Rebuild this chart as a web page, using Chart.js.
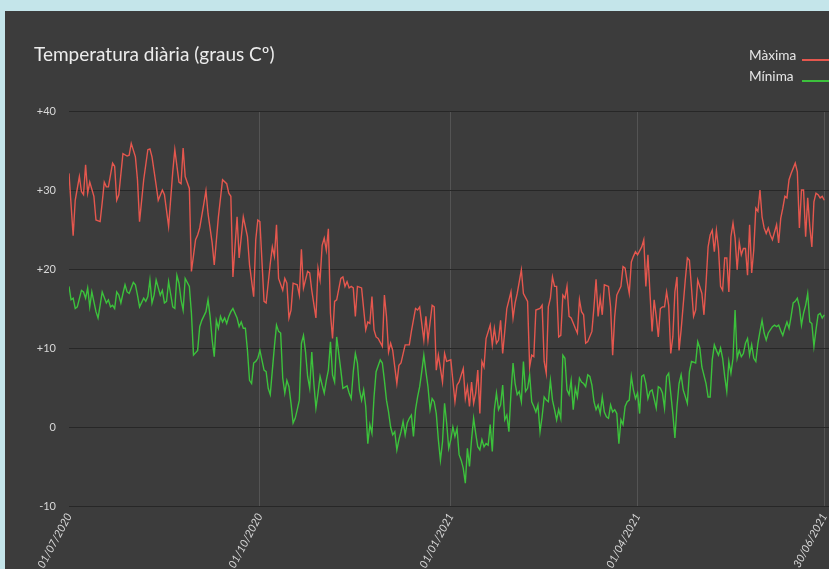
<!DOCTYPE html>
<html>
<head>
<meta charset="utf-8">
<script src="https://cdn.jsdelivr.net/npm/chart.js@4"></script>
<style>
  body { margin: 0; background: #c4e5ea; overflow: hidden; font-family: Lato, sans-serif; }
  #panel { position: absolute; left: 5px; top: 11px; width: 845px; height: 558px; background: #3c3c3c; overflow: hidden; }
  #title { position: absolute; left: 29px; top: 33px; font-size: 19px; line-height: 20px; color: #ececec; white-space: nowrap; z-index: 2; }
  #legend { position: absolute; left: 744px; top: 34px; z-index: 2; color: #e6e6e6; font-size: 13.6px; }
  .row { height: 21px; line-height: 21px; white-space: nowrap; position: relative; }
  .row span.line { position: absolute; left: 53px; top: 14px; width: 32px; height: 0; border-top: 2px solid; }
  #wrap { position: absolute; left: 0; top: 0; width: 836px; height: 558px; }
</style>
</head>
<body>
<div id="panel">
  <div id="title">Temperatura diària (graus Cº)</div>
  <div id="legend">
    <div class="row">Màxima<span class="line" style="border-color:#e5574e"></span></div>
    <div class="row">Mínima<span class="line" style="border-color:#3cc13c"></span></div>
  </div>
  <div id="wrap"><canvas id="chart"></canvas></div>
</div>
<script>
// day offset from 01/07/2020, temperature
const maxima = [[0,32.1],[2,24.2],[3,28.7],[5,31.7],[6,29.8],[7,29.4],[8,33.2],[9,29.6],[10,31],[12,29.2],[13,26.2],[15,26],[16,28.4],[17,31],[18,30.4],[19,30.4],[21,33.4],[22,33],[23,28.7],[24,29.4],[26,34.6],[28,34.3],[29,34.4],[30,35.9],[32,34.2],[33,31.3],[34,26],[36,31.3],[38,35.1],[39,35.2],[40,34.2],[42,30.6],[43,28.7],[45,30],[46,29.4],[48,25.4],[50,32.3],[51,35.1],[53,31],[54,30.8],[55,35.3],[56,31.7],[58,30.2],[59,19.7],[61,23.7],[62,24.3],[63,25.2],[65,28.3],[66,29.9],[67,27],[69,23.3],[70,20.5],[72,26.6],[74,31.3],[76,30.8],[77,29.6],[78,29.2],[79,19],[81,26.6],[82,21.4],[84,26.6],[86,24.1],[87,20.5],[89,16.5],[90,23.7],[91,26.2],[92,26],[94,15.9],[95,15.7],[97,20.7],[98,22.8],[99,21.6],[100,25.6],[101,18.8],[103,17.3],[104,18.8],[105,18.2],[106,13.8],[107,14.8],[108,18.2],[110,18],[111,16.7],[112,22.5],[113,17.6],[115,19.7],[116,19.5],[117,17.3],[119,13.8],[120,20.1],[121,18.6],[122,23],[123,23.9],[124,22.4],[125,25.1],[126,14.4],[127,11.2],[128,15.9],[129,16.1],[131,18.8],[132,19],[133,17.8],[134,18.4],[135,17.6],[136,17.8],[137,17.6],[138,14],[139,17.8],[141,17.6],[143,12.3],[144,13.3],[145,13.1],[146,16.5],[147,12.3],[148,11.4],[149,11.2],[151,10.2],[152,16.7],[153,14],[154,9.5],[155,10.6],[156,9.7],[158,5.5],[159,7.8],[160,8.1],[162,10.4],[164,10.4],[165,12.1],[167,15],[168,14.8],[169,15.2],[171,11],[172,14],[173,11],[175,15.4],[176,15.2],[177,7.2],[178,9.1],[180,5.7],[181,9.3],[182,8.3],[184,8.5],[186,3.2],[187,5.3],[188,5.7],[190,7.4],[191,3.6],[192,5.1],[193,2.6],[194,5.7],[195,3],[196,4.3],[197,7.2],[198,1.7],[199,8.3],[200,7.6],[201,11.2],[203,12.9],[204,10.4],[205,12.5],[206,10.6],[207,11],[208,13.5],[209,9.3],[210,12.1],[211,15],[213,17.1],[214,13.8],[215,15.7],[216,16.9],[218,19.9],[219,16.9],[221,15.9],[222,7.6],[223,9.1],[224,8.9],[225,14.8],[227,15],[228,15.4],[229,8.3],[230,6.8],[231,15.2],[232,16.3],[233,19],[234,17.8],[235,17.8],[236,11.4],[237,11.6],[238,16.7],[239,16.3],[240,17.8],[241,14],[242,13.8],[244,12.5],[245,11.9],[246,16.1],[247,14.6],[248,14.2],[249,10.6],[250,10.8],[252,12.1],[253,15.2],[254,18.7],[255,14],[256,16.3],[257,14.2],[258,18],[260,17.8],[261,15.2],[262,9.1],[263,14],[264,16.7],[266,17.8],[267,20.3],[268,20.1],[269,18.4],[270,16.9],[271,20.9],[272,21.6],[273,22.2],[274,21.8],[276,22.8],[277,23.7],[278,17.8],[279,21.8],[280,16.9],[281,12.1],[282,16.1],[283,14],[284,11.4],[285,15],[286,15.2],[287,15.2],[288,17.1],[289,15.4],[290,9.3],[291,11.4],[292,17.1],[293,19],[294,9.7],[295,12.3],[297,18.6],[298,21.4],[299,21.1],[300,17.6],[301,14],[302,14.8],[303,18.6],[305,16.9],[306,14.2],[307,18.2],[308,22.8],[309,24.3],[310,24.9],[311,22.2],[312,24.9],[313,22.6],[314,17.8],[315,17.3],[316,21.4],[317,21.4],[318,17.1],[319,24.1],[320,25.8],[321,23.9],[322,19.9],[323,23.4],[324,21.8],[325,22.6],[326,22.6],[327,19.2],[328,25.6],[329,19.5],[330,22.4],[331,27.7],[332,27.3],[333,30],[334,26.6],[335,25.2],[336,24.5],[337,25.2],[338,24.3],[339,23.7],[341,25.6],[342,23.3],[343,26.4],[344,27.7],[345,29.2],[346,29],[347,31.3],[348,32.1],[350,33.4],[351,32.3],[352,25.2],[353,30],[354,30],[355,24.1],[356,29],[357,25.4],[358,22.8],[359,28.5],[360,29.6],[361,29.4],[362,29],[363,29.2],[364,28.7]];

const minima = [[0,17.8],[1,16.1],[2,16.3],[3,15],[4,15.2],[6,17.3],[7,17.1],[8,16.3],[9,17.6],[10,15.2],[11,17.1],[13,14.6],[14,13.8],[15,15.4],[16,17.1],[18,15.7],[19,16.1],[20,15.2],[21,15.4],[22,15],[23,17.1],[24,16.7],[25,15.7],[26,16.9],[27,18],[28,17.1],[29,16.9],[31,18.3],[32,18],[33,16.7],[34,15.2],[36,16.3],[37,15.9],[38,16.5],[39,18.6],[40,15.7],[41,16.7],[42,18.6],[44,16.7],[45,17.3],[46,15.7],[47,15.9],[48,18.4],[50,15.2],[51,15],[52,19.2],[53,18.2],[54,16.1],[55,14.8],[56,18.8],[58,17.8],[59,14.4],[60,9.1],[62,9.7],[63,12.7],[64,13.5],[66,14.6],[67,16.1],[68,14],[69,11],[70,8.9],[71,13.5],[72,12.5],[73,14],[74,13.3],[75,13.8],[76,13.1],[77,14],[78,14.6],[79,15],[80,14.4],[81,13.8],[82,12.7],[83,13.3],[84,12.5],[85,12.5],[86,9.7],[87,5.9],[88,5.5],[89,8.1],[90,8.3],[91,8.7],[92,9.7],[94,7.2],[95,7],[96,4.9],[97,4.1],[98,7.2],[99,10.2],[100,12.9],[101,12.1],[102,11.9],[103,6.2],[104,4.3],[105,5.9],[106,5.1],[107,3],[108,0.5],[109,1.1],[110,2.2],[111,3.4],[112,10.6],[113,11.6],[114,9.5],[115,6.4],[116,4.9],[117,9.5],[118,5.5],[119,2.4],[120,4.3],[121,6.4],[122,5.3],[123,4.3],[124,5.9],[125,7.2],[126,10.8],[127,6.6],[128,5.7],[129,11.4],[130,9.3],[131,7.2],[132,4.9],[134,5.2],[135,4.3],[136,3.6],[137,7],[138,9.3],[139,8.1],[140,4.7],[141,3.4],[142,4.7],[143,2.6],[144,-2.1],[145,0.3],[146,-0.8],[147,3.8],[148,7],[150,8.5],[151,8.1],[152,5.9],[153,3.4],[154,1.9],[155,0],[156,-1],[157,-0.6],[158,-2.9],[159,-1.6],[160,-0.6],[161,0.7],[162,-1],[163,0.5],[164,1.1],[165,1.5],[166,-1.2],[167,2.2],[168,3.8],[169,5.1],[170,7],[171,9.1],[172,7],[173,5.1],[174,2.2],[175,3.6],[176,3.2],[177,1.7],[178,-1.6],[179,-4.2],[180,-1.9],[181,3],[182,0.5],[183,-2.7],[184,-1.6],[185,0],[186,-1.2],[187,-0.2],[188,-3.5],[189,-4.2],[190,-5.2],[191,-7.1],[192,-2.7],[193,-5],[194,-1.6],[195,1.1],[196,-0.8],[197,-2.5],[198,-2.9],[199,-1.6],[200,-2.5],[201,-2.1],[202,-2.3],[203,0.3],[204,-3.1],[205,2.2],[206,4.3],[207,2.2],[208,2.8],[209,5.3],[210,0.9],[211,1.5],[212,-0.6],[213,4.3],[214,8.1],[215,5.5],[216,4.1],[217,4.5],[218,3.2],[219,8.3],[220,4.5],[221,4.9],[222,6.6],[223,3.2],[224,2.6],[225,1.9],[226,2.8],[227,-0.6],[228,1.3],[229,3.8],[230,3.4],[231,3.2],[232,5.9],[233,3.4],[234,2.2],[235,0.9],[236,2.2],[237,1.1],[238,9.1],[239,8.7],[240,4.7],[241,4.1],[242,5.9],[243,2.2],[244,4.9],[245,3.8],[246,6.2],[247,5.7],[248,5.5],[249,5.1],[250,6.6],[251,6.4],[252,5.3],[253,3.2],[254,2.2],[255,2.8],[256,1.7],[257,3.8],[258,1.9],[259,1.3],[260,1.1],[261,2.8],[262,1.9],[263,2.2],[264,1.7],[265,-2.1],[266,0.9],[267,0.3],[268,2.6],[269,3.2],[270,3.4],[271,6.4],[272,4.7],[273,3.6],[274,4.3],[275,1.7],[276,6.4],[277,6.6],[278,5.5],[279,3.6],[280,4.5],[281,4.7],[283,2.4],[284,5.1],[285,4.9],[286,4.3],[287,2.4],[288,6.4],[289,6.8],[291,1.7],[292,-1.4],[293,2.6],[294,5.5],[295,6.6],[296,4.7],[298,3],[299,7],[300,8.3],[302,8.1],[303,10.8],[304,10],[305,7.6],[307,5.5],[308,3.8],[309,3.8],[310,8.5],[311,10.4],[312,9.7],[313,9.1],[314,10],[315,8.7],[316,6.4],[317,4.5],[318,8.3],[319,6.8],[320,8.7],[321,14.8],[322,8.7],[323,9.7],[324,8.9],[325,9.3],[326,10.6],[327,11.2],[328,9.1],[329,10.4],[330,8.7],[331,8.3],[332,10.6],[333,12.1],[334,13.5],[335,11.9],[336,11],[337,11.9],[339,12.7],[340,12.9],[341,12.7],[342,12.9],[343,12.2],[344,11.6],[345,12.5],[346,13.3],[347,12.5],[348,14],[349,15.7],[350,15.9],[351,16.3],[352,15.2],[353,12.9],[354,14.4],[355,15.4],[356,16.9],[357,13.3],[358,13.1],[359,10.2],[360,12.3],[361,14.2],[362,14.4],[363,13.8],[364,14.2]];

const xTickDays = [0, 92, 184, 274, 364];
const xTickLabels = ['01/07/2020', '01/10/2020', '01/01/2021', '01/04/2021', '30/06/2021'];
const yTicks = [-10, 0, 10, 20, 30, 40];

const tickFont = { family: 'Lato', size: 11 };

new Chart(document.getElementById('chart'), {
  type: 'line',
  data: {
    datasets: [{
      label: 'Màxima',
      data: maxima.map(p => ({ x: p[0], y: p[1] })),
      borderColor: '#e5574e',
      borderWidth: 1.4,
      pointRadius: 0,
      tension: 0
    }, {
      label: 'Mínima',
      data: minima.map(p => ({ x: p[0], y: p[1] })),
      borderColor: '#3cc13c',
      borderWidth: 1.4,
      pointRadius: 0,
      tension: 0
    }]
  },
  options: {
    responsive: true,
    maintainAspectRatio: false,
    animation: false,
    layout: { padding: { top: 100, right: 5, left: 0, bottom: 0 } },
    plugins: { legend: { display: false }, tooltip: { enabled: false } },
    scales: {
      x: {
        type: 'linear',
        min: 0,
        max: 367,
        afterBuildTicks: s => { s.ticks = xTickDays.map(v => ({ value: v })); },
        afterFit: s => { s.height = 63; },
        border: { display: false },
        grid: {
          drawTicks: false,
          color: c => c.index === 0 ? 'rgba(0,0,0,0)' : '#545454'
        },
        ticks: {
          autoSkip: false,
          minRotation: 62,
          maxRotation: 62,
          padding: 5,
          color: '#d8d8d8',
          font: { family: 'Lato', size: 11, style: 'italic' },
          callback: v => xTickLabels[xTickDays.indexOf(v)]
        }
      },
      y: {
        min: -10,
        max: 40,
        afterBuildTicks: s => { s.ticks = yTicks.map(v => ({ value: v })); },
        afterFit: s => { s.width = 64; },
        border: { display: false },
        grid: { drawTicks: false, color: '#272727' },
        ticks: {
          padding: 13,
          color: '#d8d8d8',
          font: tickFont,
          callback: v => v > 0 ? '+' + v : String(v)
        }
      }
    }
  }
});
</script>
</body>
</html>
